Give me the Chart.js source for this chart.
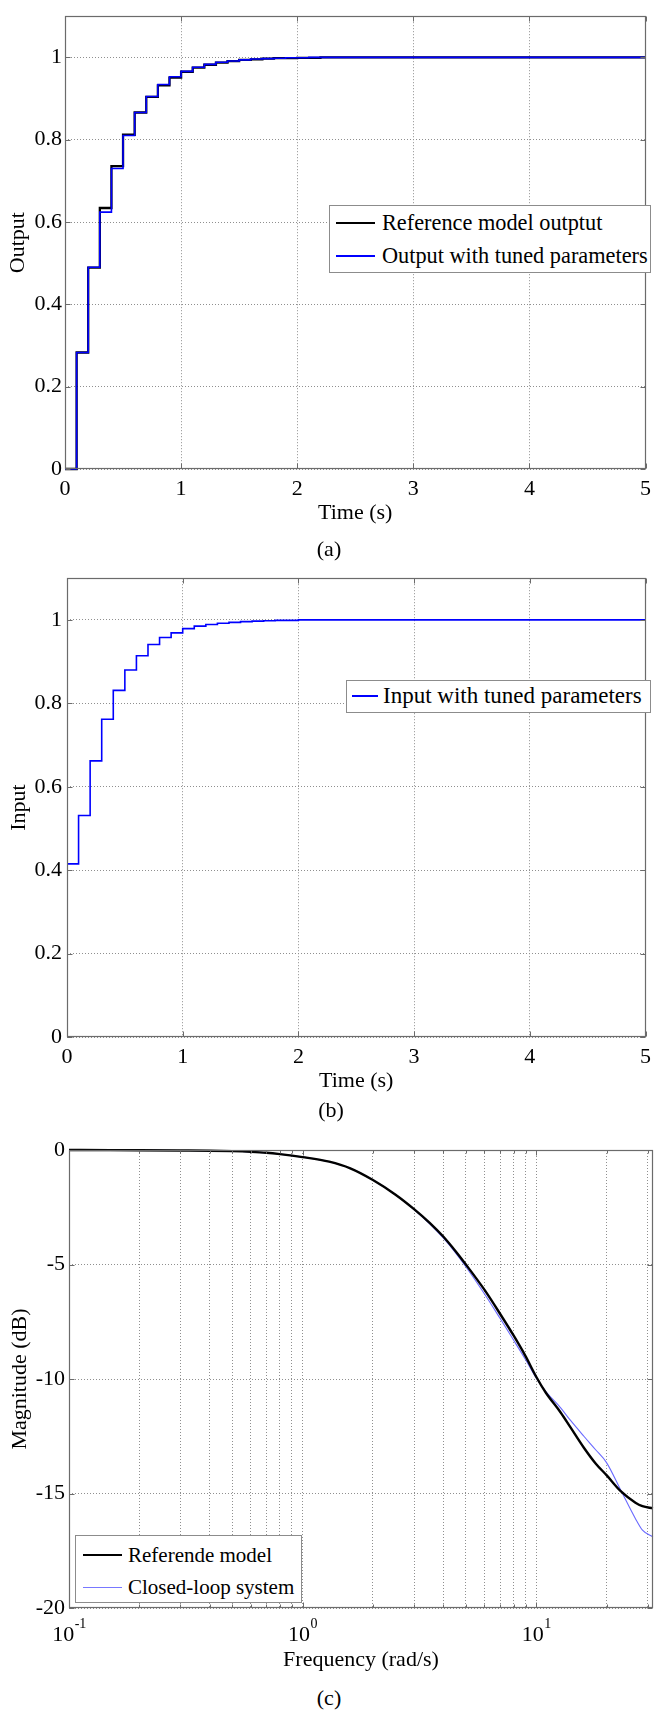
<!DOCTYPE html>
<html>
<head>
<meta charset="utf-8">
<script src="https://cdn.jsdelivr.net/npm/chart.js@4.4.1/dist/chart.umd.min.js"></script>
<style>
  html, body { margin:0; padding:0; background:#fff; }
  body { position:relative; width:658px; height:1711px; overflow:hidden; font-family:"Liberation Serif","Times New Roman",serif; color:#000; }
  canvas { position:absolute; left:0; }
  .cap { position:absolute; font-size:22px; line-height:24px; height:24px; transform:translateX(-50%); white-space:nowrap; }
  .leg { position:absolute; border:1px solid #8c8c8c; background:#fff; box-sizing:border-box; }
  .sw { position:absolute; }
  .lt { position:absolute; font-size:22.3px; line-height:26px; height:26px; white-space:nowrap; }
</style>
</head>
<body>
<canvas id="ca" width="658" height="526" style="top:0px"></canvas>
<canvas id="cb" width="658" height="534" style="top:560px"></canvas>
<canvas id="cc" width="658" height="553" style="top:1120px"></canvas>

<div class="cap" style="left:329px;top:537px">(a)</div>
<div class="cap" style="left:331px;top:1098px">(b)</div>
<div class="cap" style="left:329px;top:1686px">(c)</div>

<!-- legend (a) -->
<div class="leg" style="left:329px;top:205px;width:322px;height:68px"></div>
<div class="sw" style="left:336px;top:222px;width:39px;height:2px;background:#000"></div>
<div class="lt" style="left:382px;top:210px">Reference model outptut</div>
<div class="sw" style="left:336px;top:255px;width:39px;height:2px;background:#0000ff"></div>
<div class="lt" style="left:382px;top:243px">Output with tuned parameters</div>

<!-- legend (b) -->
<div class="leg" style="left:346px;top:680px;width:305px;height:33px"></div>
<div class="sw" style="left:352px;top:695px;width:26px;height:2px;background:#0000ff"></div>
<div class="lt" style="left:383px;top:683px;font-size:23px">Input with tuned parameters</div>

<!-- legend (c) -->
<div class="leg" style="left:75px;top:1535px;width:227px;height:68px"></div>
<div class="sw" style="left:83px;top:1554px;width:39px;height:2px;background:#000"></div>
<div class="lt" style="left:128px;top:1542px;font-size:21px">Referende model</div>
<div class="sw" style="left:83px;top:1587px;width:39px;height:1px;background:#7878ff"></div>
<div class="lt" style="left:128px;top:1574px;font-size:21px">Closed-loop system</div>

<script>
// ---------------- data ----------------
const timeA = [0, 0.1, 0.2, 0.3, 0.4, 0.5, 0.6, 0.7, 0.8, 0.9, 1.0, 1.1, 1.2, 1.3, 1.4, 1.5, 1.6, 1.7, 1.8, 1.9, 2.0, 2.1, 2.2, 2.3, 2.4, 2.5, 5];
const refOut   = [0, 0.283, 0.489, 0.634, 0.736, 0.812, 0.866, 0.904, 0.932, 0.951, 0.965, 0.975, 0.982, 0.987, 0.991, 0.994, 0.995, 0.997, 0.998, 0.998, 0.999, 0.999, 1, 1, 1, 1, 1];
const tunedOut = [0, 0.283, 0.490, 0.624, 0.730, 0.810, 0.866, 0.905, 0.934, 0.953, 0.966, 0.976, 0.983, 0.988, 0.991, 0.994, 0.996, 0.997, 0.998, 0.999, 0.999, 1, 1, 1, 1, 1, 1];

const timeB = [0, 0.1, 0.2, 0.3, 0.4, 0.5, 0.6, 0.7, 0.8, 0.9, 1.0, 1.1, 1.2, 1.3, 1.4, 1.5, 1.6, 1.7, 1.8, 1.9, 2.0, 2.1, 2.2, 2.3, 2.4, 2.5, 5];
const inputTuned = [0.415, 0.531, 0.662, 0.762, 0.831, 0.880, 0.914, 0.941, 0.958, 0.969, 0.979, 0.985, 0.989, 0.992, 0.994, 0.996, 0.997, 0.998, 0.999, 0.999, 1, 1, 1, 1, 1, 1, 1];

const freq      = [0.1, 0.15, 0.2, 0.3, 0.4, 0.5, 0.6, 0.7, 0.8, 1, 1.3, 1.6, 2, 2.5, 3, 3.5, 4, 4.5, 5, 6, 7, 8, 9, 10, 11, 12.7, 14, 16, 18, 20, 23, 26.6, 28.5, 31.6];
const refMag    = [0, -0.005, -0.01, -0.02, -0.03, -0.05, -0.08, -0.12, -0.18, -0.31, -0.51, -0.80, -1.31, -1.95, -2.58, -3.18, -3.78, -4.40, -5.0, -6.1, -7.15, -8.1, -9.0, -9.9, -10.6, -11.45, -12.1, -13.0, -13.7, -14.2, -14.9, -15.4, -15.55, -15.65];
const closedMag = [0, -0.005, -0.01, -0.02, -0.03, -0.05, -0.08, -0.12, -0.18, -0.31, -0.51, -0.80, -1.31, -1.95, -2.60, -3.22, -3.84, -4.47, -5.1, -6.28, -7.35, -8.3, -9.15, -9.95, -10.55, -11.25, -11.8, -12.5, -13.1, -13.65, -14.85, -16.1, -16.6, -16.9];

const timeTicks = [0, 1, 2, 3, 4, 5];
const unitTicks = [0, 0.2, 0.4, 0.6, 0.8, 1];
const magTicks  = [-20, -15, -10, -5, 0];
const freqGrid  = [0.1, 0.2, 0.3, 0.4, 0.5, 0.6, 0.7, 0.8, 0.9, 1, 2, 3, 4, 5, 6, 7, 8, 9, 10, 20, 30];
const freqDecades   = [0.1, 1, 10];
const freqDecadeExp = ['-1', '0', '1'];

// ---------------- helpers ----------------
const FAM = "'Liberation Serif','Times New Roman',serif";
const FONT = { family: FAM, size: 22 };
const GRID = { color: '#8f8f8f', lineWidth: 1, drawTicks: false };
const BORDER = { display: false, dash: [1, 2] };
const pts = (xs, ys) => xs.map((x, i) => ({ x: x, y: ys[i] }));

const frameTicks = {
  id: 'frameTicks',
  afterDatasetsDraw(chart, args, opts) {
    const { ctx, chartArea: a, scales } = chart;
    const x = scales.x, y = scales.y;
    const L = Math.round(a.left) + 0.5, R = Math.round(a.right) - 0.5;
    const T = Math.round(a.top) + 0.5, B = Math.round(a.bottom) - 0.5;
    const len = opts.len || 5;
    ctx.save();
    ctx.setLineDash([]);
    ctx.strokeStyle = '#6b6b6b';
    ctx.lineWidth = 1;
    ctx.beginPath();
    x.ticks.forEach(t => {
      const px = Math.round(x.getPixelForValue(t.value)) + 0.5;
      const l = (opts.majorX && opts.majorX.indexOf(t.value) < 0) ? 3 : len;
      ctx.moveTo(px, B); ctx.lineTo(px, B - l);
      ctx.moveTo(px, T); ctx.lineTo(px, T + l);
    });
    y.ticks.forEach(t => {
      const py = Math.round(y.getPixelForValue(t.value)) + 0.5;
      ctx.moveTo(L, py); ctx.lineTo(L + len, py);
      ctx.moveTo(R, py); ctx.lineTo(R - len, py);
    });
    ctx.stroke();
    ctx.lineWidth = 1.2;
    ctx.strokeRect(L, T, R - L, B - T);
    ctx.restore();
  }
};

const logLabels = {
  id: 'logLabels',
  afterDraw(chart) {
    const { ctx, scales: { x }, chartArea: a } = chart;
    ctx.save();
    ctx.fillStyle = '#000';
    ctx.textBaseline = 'middle';
    ctx.textAlign = 'left';
    freqDecades.forEach((v, i) => {
      const px = x.getPixelForValue(v);
      ctx.font = "22px " + FAM; const wb = ctx.measureText('10').width;
      ctx.font = "14px " + FAM; const we = ctx.measureText(freqDecadeExp[i]).width;
      const x0 = px - (wb + we) / 2;
      ctx.font = "22px " + FAM; ctx.fillText('10', x0, a.bottom + 27);
      ctx.font = "14px " + FAM; ctx.fillText(freqDecadeExp[i], x0 + wb + 0.5, a.bottom + 16);
    });
    ctx.restore();
  }
};

function baseOptions(o) {
  return {
    responsive: false, animation: false, devicePixelRatio: 1,
    layout: { padding: o.padding },
    elements: { point: { radius: 0 }, line: { tension: 0 } },
    plugins: { legend: { display: false }, tooltip: { enabled: false }, frameTicks: o.frame || {} },
    scales: { x: o.x, y: o.y }
  };
}

// ---------------- chart (a) ----------------
new Chart(document.getElementById('ca'), {
  type: 'line',
  data: { datasets: [
    { label: 'Output with tuned parameters', data: pts(timeA, tunedOut), borderColor: '#0000ff', borderWidth: 1.6, stepped: 'before', fill: false, clip: 2 },
    { label: 'Reference model outptut', data: pts(timeA, refOut), borderColor: '#000000', borderWidth: 2.3, stepped: 'before', fill: false, clip: 2 }
  ]},
  options: baseOptions({
    padding: { top: 7, right: 7, left: 0, bottom: 0 },
    x: { type: 'linear', min: 0, max: 5,
         afterBuildTicks: s => { s.ticks = timeTicks.map(v => ({ value: v })); },
         afterFit: s => { s.height = 57; },
         ticks: { font: FONT, color: '#000', padding: 7, maxRotation: 0, autoSkip: false, callback: v => String(v) },
         grid: GRID, border: BORDER,
         title: { display: true, text: 'Time (s)', font: FONT, color: '#000', padding: { top: 0, bottom: 0 } } },
    y: { type: 'linear', min: 0, max: 1.1,
         afterBuildTicks: s => { s.ticks = unitTicks.map(v => ({ value: v })); },
         afterFit: s => { s.width = 65; },
         ticks: { font: FONT, color: '#000', padding: 3, autoSkip: false, callback: v => String(v) },
         grid: GRID, border: BORDER,
         title: { display: true, text: 'Output', font: FONT, color: '#000', padding: { top: 5, bottom: 0 } } }
  }),
  plugins: [frameTicks]
});

// ---------------- chart (b) ----------------
new Chart(document.getElementById('cb'), {
  type: 'line',
  data: { datasets: [
    { label: 'Input with tuned parameters', data: pts(timeB, inputTuned), borderColor: '#0000ff', borderWidth: 1.6, stepped: 'before', fill: false, clip: 2 }
  ]},
  options: baseOptions({
    padding: { top: 14, right: 7, left: 0, bottom: 0 },
    x: { type: 'linear', min: 0, max: 5,
         afterBuildTicks: s => { s.ticks = timeTicks.map(v => ({ value: v })); },
         afterFit: s => { s.height = 57; },
         ticks: { font: FONT, color: '#000', padding: 7, maxRotation: 0, autoSkip: false, callback: v => String(v) },
         grid: GRID, border: BORDER,
         title: { display: true, text: 'Time (s)', font: FONT, color: '#000', padding: { top: 0, bottom: 0 } } },
    y: { type: 'linear', min: 0, max: 1.1,
         afterBuildTicks: s => { s.ticks = unitTicks.map(v => ({ value: v })); },
         afterFit: s => { s.width = 67; },
         ticks: { font: FONT, color: '#000', padding: 5, autoSkip: false, callback: v => String(v) },
         grid: GRID, border: BORDER,
         title: { display: true, text: 'Input', font: FONT, color: '#000', padding: { top: 6, bottom: 0 } } }
  }),
  plugins: [frameTicks]
});

// ---------------- chart (c) ----------------
new Chart(document.getElementById('cc'), {
  type: 'line',
  data: { datasets: [
    { label: 'Referende model', data: pts(freq, refMag), borderColor: '#000000', borderWidth: 2.4, cubicInterpolationMode: 'monotone', fill: false, clip: 2 },
    { label: 'Closed-loop system', data: pts(freq, closedMag), borderColor: '#6a6aff', borderWidth: 1.1, cubicInterpolationMode: 'monotone', fill: false, clip: 2 }
  ]},
  options: baseOptions({
    padding: { top: 30, right: 5, left: 0, bottom: 0 },
    frame: { len: 5, majorX: freqDecades },
    x: { type: 'logarithmic', min: 0.1, max: 31.62,
         afterBuildTicks: s => { s.ticks = freqGrid.map(v => ({ value: v })); },
         afterFit: s => { s.height = 65; },
         ticks: { display: false, autoSkip: false },
         grid: GRID, border: BORDER,
         title: { display: true, text: 'Frequency (rad/s)', font: FONT, color: '#000', padding: { top: 0, bottom: 0 } } },
    y: { type: 'linear', min: -20, max: 0,
         afterBuildTicks: s => { s.ticks = magTicks.map(v => ({ value: v })); },
         afterFit: s => { s.width = 69; },
         ticks: { font: FONT, color: '#000', padding: 4, autoSkip: false, callback: v => String(v) },
         grid: GRID, border: BORDER,
         title: { display: true, text: 'Magnitude (dB)', font: FONT, color: '#000', padding: { top: 7, bottom: 0 } } }
  }),
  plugins: [frameTicks, logLabels]
});
</script>
</body>
</html>
